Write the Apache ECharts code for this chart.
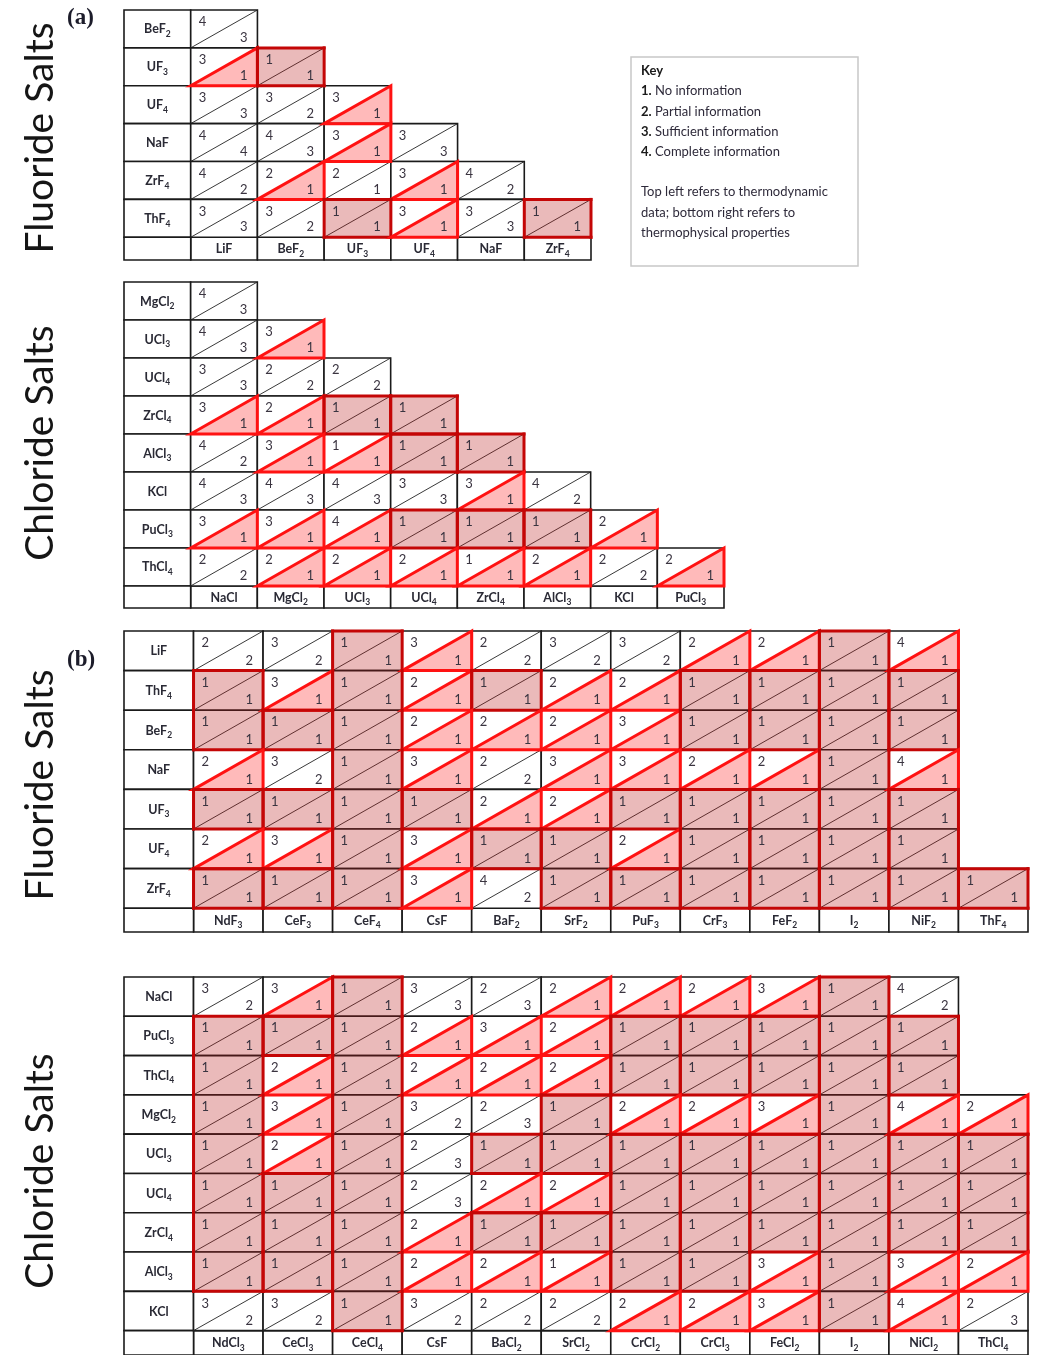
<!DOCTYPE html>
<html>
<head>
<meta charset="utf-8">
<script src="https://cdn.jsdelivr.net/npm/echarts@6/dist/echarts.min.js"></script>
<style>
html, body { margin: 0; padding: 0; background: #fff; }
#main { width: 1043px; height: 1355px; }
</style>
</head>
<body>
<div id="main"></div>
<script>
// (a) fluoride salts: lower triangle, top-left / bottom-right ratings
var aFluRows = ['BeF₂', 'UF₃', 'UF₄', 'NaF', 'ZrF₄', 'ThF₄'];
var aFluCols = ['LiF', 'BeF₂', 'UF₃', 'UF₄', 'NaF', 'ZrF₄'];
var aFluTop = [[4], [3, 1], [3, 3, 3], [4, 4, 3, 3], [4, 2, 2, 3, 4], [3, 3, 1, 3, 3, 1]];
var aFluBot = [[3], [1, 1], [3, 2, 1], [4, 3, 1, 3], [2, 1, 1, 1, 2], [3, 2, 1, 1, 3, 1]];
var aFluFix = [[4, 2, 0]]; // [row, col, mark] where the picture differs from the rule

// (a) chloride salts
var aChlRows = ['MgCl₂', 'UCl₃', 'UCl₄', 'ZrCl₄', 'AlCl₃', 'KCl', 'PuCl₃', 'ThCl₄'];
var aChlCols = ['NaCl', 'MgCl₂', 'UCl₃', 'UCl₄', 'ZrCl₄', 'AlCl₃', 'KCl', 'PuCl₃'];
var aChlTop = [[4], [4, 3], [3, 2, 2], [3, 2, 1, 1], [4, 3, 1, 1, 1], [4, 4, 4, 3, 3, 4], [3, 3, 4, 1, 1, 1, 2], [2, 2, 2, 2, 1, 2, 2, 2]];
var aChlBot = [[3], [3, 1], [3, 2, 2], [1, 1, 1, 1], [2, 1, 1, 1, 1], [3, 3, 3, 3, 1, 2], [1, 1, 1, 1, 1, 1, 1], [2, 1, 1, 1, 1, 1, 2, 1]];
var aChlFix = [[4, 2, 1], [7, 4, 1]];

// (b) fluoride salts
var bFluRows = ['LiF', 'ThF₄', 'BeF₂', 'NaF', 'UF₃', 'UF₄', 'ZrF₄'];
var bFluCols = ['NdF₃', 'CeF₃', 'CeF₄', 'CsF', 'BaF₂', 'SrF₂', 'PuF₃', 'CrF₃', 'FeF₂', 'I₂', 'NiF₂', 'ThF₄'];
var bFluTop = [
  [2, 3, 1, 3, 2, 3, 3, 2, 2, 1, 4, null],
  [1, 3, 1, 2, 1, 2, 2, 1, 1, 1, 1, null],
  [1, 1, 1, 2, 2, 2, 3, 1, 1, 1, 1, null],
  [2, 3, 1, 3, 2, 3, 3, 2, 2, 1, 4, null],
  [1, 1, 1, 1, 2, 2, 1, 1, 1, 1, 1, null],
  [2, 3, 1, 3, 1, 1, 2, 1, 1, 1, 1, null],
  [1, 1, 1, 3, 4, 1, 1, 1, 1, 1, 1, 1]
];
var bFluBot = [
  [2, 2, 1, 1, 2, 2, 2, 1, 1, 1, 1, null],
  [1, 1, 1, 1, 1, 1, 1, 1, 1, 1, 1, null],
  [1, 1, 1, 1, 1, 1, 1, 1, 1, 1, 1, null],
  [1, 2, 1, 1, 2, 1, 1, 1, 1, 1, 1, null],
  [1, 1, 1, 1, 1, 1, 1, 1, 1, 1, 1, null],
  [1, 1, 1, 1, 1, 1, 1, 1, 1, 1, 1, null],
  [1, 1, 1, 1, 2, 1, 1, 1, 1, 1, 1, 1]
];
var bFluFix = [];

// (b) chloride salts
var bChlRows = ['NaCl', 'PuCl₃', 'ThCl₄', 'MgCl₂', 'UCl₃', 'UCl₄', 'ZrCl₄', 'AlCl₃', 'KCl'];
var bChlCols = ['NdCl₃', 'CeCl₃', 'CeCl₄', 'CsF', 'BaCl₂', 'SrCl₂', 'CrCl₂', 'CrCl₃', 'FeCl₂', 'I₂', 'NiCl₂', 'ThCl₄'];
var bChlTop = [
  [3, 3, 1, 3, 2, 2, 2, 2, 3, 1, 4, null],
  [1, 1, 1, 2, 3, 2, 1, 1, 1, 1, 1, null],
  [1, 2, 1, 2, 2, 2, 1, 1, 1, 1, 1, null],
  [1, 3, 1, 3, 2, 1, 2, 2, 3, 1, 4, 2],
  [1, 2, 1, 2, 1, 1, 1, 1, 1, 1, 1, 1],
  [1, 1, 1, 2, 2, 2, 1, 1, 1, 1, 1, 1],
  [1, 1, 1, 2, 1, 1, 1, 1, 1, 1, 1, 1],
  [1, 1, 1, 2, 2, 1, 1, 1, 3, 1, 3, 2],
  [3, 3, 1, 3, 2, 2, 2, 2, 3, 1, 4, 2]
];
var bChlBot = [
  [2, 1, 1, 3, 3, 1, 1, 1, 1, 1, 2, null],
  [1, 1, 1, 1, 1, 1, 1, 1, 1, 1, 1, null],
  [1, 1, 1, 1, 1, 1, 1, 1, 1, 1, 1, null],
  [1, 1, 1, 2, 3, 1, 1, 1, 1, 1, 1, 1],
  [1, 1, 1, 3, 1, 1, 1, 1, 1, 1, 1, 1],
  [1, 1, 1, 3, 1, 1, 1, 1, 1, 1, 1, 1],
  [1, 1, 1, 1, 1, 1, 1, 1, 1, 1, 1, 1],
  [1, 1, 1, 1, 1, 1, 1, 1, 1, 1, 1, 1],
  [2, 2, 1, 2, 2, 2, 1, 1, 1, 1, 1, 3]
];
var bChlFix = [[7, 5, 1]];

var keyLines = ['1.|No information', '2.|Partial information', '3.|Sufficient information', '4.|Complete information'];
var keyNote = ['Top left refers to thermodynamic', 'data; bottom right refers to', 'thermophysical properties'];

var FONT = 'Lato, "DejaVu Sans", sans-serif';

var panels = [
  { rows: aFluRows, cols: aFluCols, top: aFluTop, bot: aFluBot, fix: aFluFix, grid: { left: 124, top: 10, width: 467, height: 250 }, lr: 0.6, box: 'cell' },
  { rows: aChlRows, cols: aChlCols, top: aChlTop, bot: aChlBot, fix: aChlFix, grid: { left: 124, top: 282, width: 600, height: 326 }, lr: 0.58, box: 'cell' },
  { rows: bFluRows, cols: bFluCols, top: bFluTop, bot: bFluBot, fix: bFluFix, grid: { left: 124, top: 631, width: 904, height: 301 }, lr: 0.6, box: 'column' },
  { rows: bChlRows, cols: bChlCols, top: bChlTop, bot: bChlBot, fix: bChlFix, grid: { left: 124, top: 977, width: 904, height: 378 }, lr: 0.62, box: 'column' }
];

// 'BeF₂' -> 'BeF{s|2}' so the subscript can be sized and lowered
var SUBS = '₀₁₂₃₄₅₆₇₈₉';
function richName(name) {
  var out = '', base = '';
  for (var k = 0; k < name.length; k++) {
    var d = SUBS.indexOf(name[k]);
    if (d >= 0) {
      if (base) { out += '{n|' + base + '}'; base = ''; }
      out += '{s|' + d + '}';
    } else {
      base += name[k];
    }
  }
  if (base) out += '{n|' + base + '}';
  return out;
}
var nameRich = {
  n: { fontFamily: FONT, fontWeight: 'bold', fontSize: 12.5, lineHeight: 16, verticalAlign: 'top', fill: '#2a2a35' },
  s: { fontFamily: FONT, fontWeight: 'bold', fontSize: 8.5, lineHeight: 16, verticalAlign: 'bottom', padding: [5, 0, 0, 0], fill: '#2a2a35' }
};

function buildCells(p) {
  var cells = [];
  p.top.forEach(function (row, r) {
    row.forEach(function (t, c) {
      if (t == null) return;
      var b = p.bot[r][c];
      var mark = (t === 1 && b === 1) ? 2 : (b === 1 ? 1 : 0);
      cells.push({ r: r, c: c, t: t, b: b, mark: mark });
    });
  });
  p.fix.forEach(function (f) {
    cells.forEach(function (cell) {
      if (cell.r === f[0] && cell.c === f[1]) cell.mark = f[2];
    });
  });
  return cells;
}

function cellRect(api, x0, y0, hh) {
  var a = api.coord([x0, y0]);
  var b = api.coord([x0 + 1, y0 + hh]);
  return { x: a[0], y: a[1], w: b[0] - a[0], h: b[1] - a[1] };
}

var grids = [], xAxes = [], yAxes = [], series = [];

panels.forEach(function (p, i) {
  var nr = p.rows.length, nc = p.cols.length;
  var cells = buildCells(p);
  var full = {};
  cells.forEach(function (cell) { if (cell.mark === 2) full[cell.r + '_' + cell.c] = true; });
  function isFull(r, c) { return !!full[r + '_' + c]; }

  grids.push(p.grid);
  xAxes.push({ type: 'value', gridIndex: i, min: -1, max: nc, show: false });
  yAxes.push({ type: 'value', gridIndex: i, min: 0, max: nr + p.lr, inverse: true, show: false });

  // header cells: row names, column names and the empty corner
  var labelText = [], labelData = [];
  p.rows.forEach(function (name, r) { labelData.push([-1, r, 1]); labelText.push(name); });
  p.cols.forEach(function (name, c) { labelData.push([c, nr, p.lr]); labelText.push(name); });
  labelData.push([-1, nr, p.lr]); labelText.push('');

  series.push({
    type: 'custom', xAxisIndex: i, yAxisIndex: i, z: 1, clip: false, silent: true,
    data: labelData,
    renderItem: function (params, api) {
      var q = cellRect(api, api.value(0), api.value(1), api.value(2));
      return {
        type: 'group',
        children: [
          { type: 'rect', shape: { x: q.x, y: q.y, width: q.w, height: q.h },
            style: { fill: '#fff', stroke: '#1a1a1a', lineWidth: 1.6 } },
          { type: 'text', x: q.x + q.w / 2, y: q.y + q.h / 2 + 2,
            style: { text: richName(labelText[params.dataIndex]), rich: nameRich,
              align: 'center', verticalAlign: 'middle' } }
        ]
      };
    }
  });

  // white cells with the diagonal
  series.push({
    type: 'custom', xAxisIndex: i, yAxisIndex: i, z: 2, clip: false, silent: true,
    data: cells.map(function (cell) { return [cell.c, cell.r]; }),
    renderItem: function (params, api) {
      var q = cellRect(api, api.value(0), api.value(1), 1);
      return {
        type: 'group',
        children: [
          { type: 'rect', shape: { x: q.x, y: q.y, width: q.w, height: q.h },
            style: { fill: '#fff', stroke: '#1a1a1a', lineWidth: 1.6 } },
          { type: 'line', shape: { x1: q.x, y1: q.y + q.h, x2: q.x + q.w, y2: q.y },
            style: { stroke: '#222', lineWidth: 0.9 } }
        ]
      };
    }
  });

  // red triangles (thermophysical = 1) and shaded cells (both = 1)
  var marked = cells.filter(function (cell) { return cell.mark > 0; }).map(function (cell) {
    var r = cell.r, c = cell.c;
    if (p.box === 'cell') return [c, r, cell.mark, 1, 1, 1, 1];
    return [c, r, cell.mark, isFull(r - 1, c) ? 0 : 1, 1, isFull(r + 1, c) ? 0 : 1, 1];
  });
  series.push({
    type: 'custom', xAxisIndex: i, yAxisIndex: i, z: 3, clip: false, silent: true,
    data: marked,
    renderItem: function (params, api) {
      var q = cellRect(api, api.value(0), api.value(1), 1);
      if (api.value(2) === 1) {
        return {
          type: 'polygon',
          shape: { points: [[q.x, q.y + q.h], [q.x + q.w, q.y], [q.x + q.w, q.y + q.h]] },
          style: { fill: 'rgba(255,0,0,0.27)', stroke: '#ff1212', lineWidth: 3, lineJoin: 'miter' }
        };
      }
      var x1 = q.x, y1 = q.y, x2 = q.x + q.w, y2 = q.y + q.h;
      var edges = [[x1, y1, x2, y1], [x2, y1, x2, y2], [x1, y2, x2, y2], [x1, y1, x1, y2]];
      var children = [{ type: 'rect', shape: { x: x1, y: y1, width: q.w, height: q.h },
        style: { fill: 'rgba(185,25,25,0.3)' } }];
      edges.forEach(function (e, k) {
        if (api.value(3 + k)) {
          children.push({ type: 'line', shape: { x1: e[0], y1: e[1], x2: e[2], y2: e[3] },
            style: { stroke: '#c40606', lineWidth: 3, lineCap: 'square' } });
        }
      });
      return { type: 'group', children: children };
    }
  });

  // ratings: top-left thermodynamic, bottom-right thermophysical
  series.push({
    type: 'custom', xAxisIndex: i, yAxisIndex: i, z: 4, clip: false, silent: true,
    data: cells.map(function (cell) { return [cell.c, cell.r, cell.t, cell.b]; }),
    renderItem: function (params, api) {
      var q = cellRect(api, api.value(0), api.value(1), 1);
      var st = { fontFamily: FONT, fontSize: 13, fill: '#3a3440' };
      return {
        type: 'group',
        children: [
          { type: 'text', x: q.x + 8, y: q.y + 12,
            style: Object.assign({ text: String(api.value(2)), align: 'left', verticalAlign: 'middle' }, st) },
          { type: 'text', x: q.x + q.w - 10, y: q.y + q.h - 10,
            style: Object.assign({ text: String(api.value(3)), align: 'right', verticalAlign: 'middle' }, st) }
        ]
      };
    }
  });
});

var sideStyle = { fontFamily: FONT, fontSize: 39, fill: '#151515', align: 'center', verticalAlign: 'middle' };
function sideLabel(text, y) {
  return { type: 'text', x: 40, y: y, rotation: Math.PI / 2, style: Object.assign({ text: text }, sideStyle) };
}

var keyRich = keyLines.map(function (s) {
  var parts = s.split('|');
  return '{b|' + parts[0] + '} ' + parts[1];
});
var keyText = '{b|Key}\n' + keyRich.join('\n') + '\n\n' + keyNote.join('\n');

var option = {
  animation: false,
  backgroundColor: '#fff',
  grid: grids,
  xAxis: xAxes,
  yAxis: yAxes,
  series: series,
  graphic: [
    sideLabel('Fluoride Salts', 138),
    sideLabel('Chloride Salts', 443),
    sideLabel('Fluoride Salts', 785),
    sideLabel('Chloride Salts', 1171),
    { type: 'text', x: 67, y: 18, style: { text: '(a)', fontFamily: '"Liberation Serif", serif', fontWeight: 'bold', fontSize: 23, fill: '#1c1c2a', verticalAlign: 'middle' } },
    { type: 'text', x: 67, y: 660, style: { text: '(b)', fontFamily: '"Liberation Serif", serif', fontWeight: 'bold', fontSize: 23, fill: '#1c1c2a', verticalAlign: 'middle' } },
    { type: 'rect', shape: { x: 631, y: 57, width: 227, height: 209 }, style: { fill: '#fff', stroke: '#c8c8c8', lineWidth: 1.5 } },
    { type: 'text', x: 641, y: 61, style: { text: keyText, fontFamily: FONT, fontSize: 13, lineHeight: 20.2, fill: '#2e2a3a',
      rich: { b: { fontFamily: FONT, fontWeight: 'bold', fontSize: 13, lineHeight: 20.2, fill: '#1a1a1a' } } } }
  ]
};

var myChart = echarts.init(document.getElementById('main'));
myChart.setOption(option);
</script>
</body>
</html>
